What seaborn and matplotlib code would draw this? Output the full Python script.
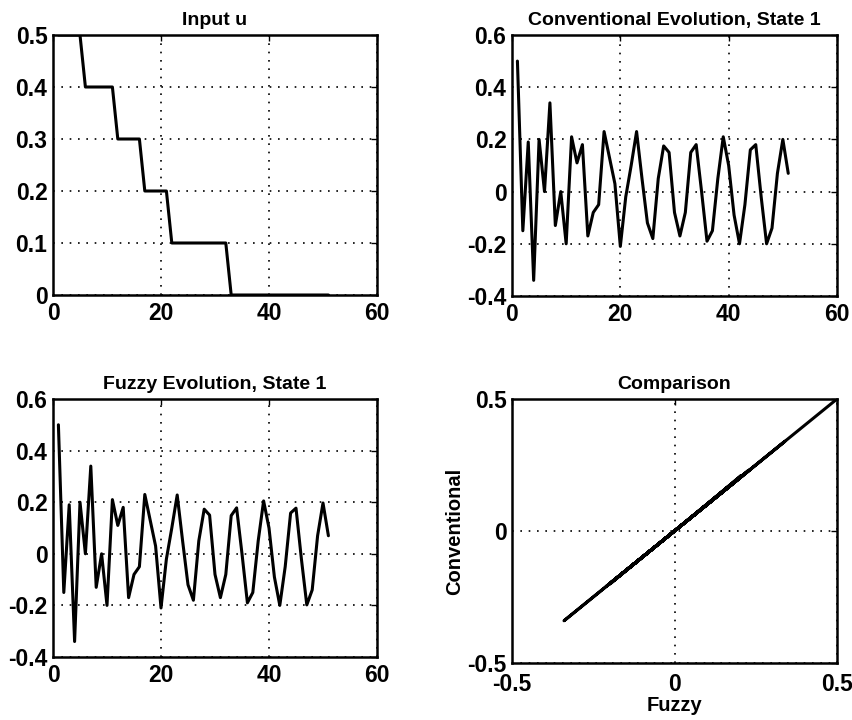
import matplotlib
matplotlib.use("Agg")
import matplotlib.pyplot as plt
import seaborn as sns
import pandas as pd

# ---- data ----
input_t = [1, 5, 6, 11, 12, 16, 17, 21, 22, 32, 33, 51]
input_u = [0.5, 0.5, 0.4, 0.4, 0.3, 0.3, 0.2, 0.2, 0.1, 0.1, 0.0, 0.0]

time_steps = list(range(1, 52))
conventional = [0.50, -0.15, 0.19, -0.34, 0.20, 0.00, 0.34, -0.13, 0.00, -0.20,
                0.21, 0.11, 0.18, -0.17, -0.08, -0.05, 0.23, 0.13, 0.03, -0.21,
                -0.02, 0.10, 0.23, 0.05, -0.12, -0.18, 0.05, 0.175, 0.15, -0.08,
                -0.17, -0.08, 0.15, 0.18, 0.00, -0.19, -0.15, 0.05, 0.21, 0.10,
                -0.09, -0.20, -0.05, 0.16, 0.18, -0.02, -0.20, -0.14, 0.07, 0.20,
                0.07]
fuzzy = [0.50, -0.15, 0.19, -0.34, 0.20, 0.00, 0.34, -0.13, 0.00, -0.20,
         0.21, 0.11, 0.18, -0.17, -0.08, -0.05, 0.23, 0.13, 0.03, -0.21,
         -0.02, 0.10, 0.228, 0.05, -0.12, -0.18, 0.05, 0.173, 0.15, -0.08,
         -0.17, -0.08, 0.148, 0.178, 0.00, -0.19, -0.15, 0.05, 0.205, 0.10,
         -0.09, -0.20, -0.05, 0.158, 0.177, -0.02, -0.198, -0.14, 0.07, 0.197,
         0.07]

titles = ["Input u", "Conventional Evolution, State 1",
          "Fuzzy Evolution, State 1", "Comparison"]

sns.set_style("white")
plt.rcParams["font.family"] = ["Liberation Sans", "DejaVu Sans"]
plt.rcParams["font.weight"] = "bold"
plt.rcParams["text.color"] = "black"
plt.rcParams["axes.labelcolor"] = "black"
plt.rcParams["axes.titlecolor"] = "black"
plt.rcParams["xtick.color"] = "black"
plt.rcParams["ytick.color"] = "black"

W, H = 852, 720
fig = plt.figure(figsize=(W / 100, H / 100), dpi=100)

def make_ax(l, r, t, b):
    return fig.add_axes([l / W, 1 - b / H, (r - l) / W, (b - t) / H])

ax1 = make_ax(53, 377, 35, 295)
ax2 = make_ax(512, 837, 35, 296)
ax3 = make_ax(53, 377, 399, 657)
ax4 = make_ax(512, 837, 399, 663)

lw = 2.2
df_in = pd.DataFrame({"t": input_t, "u": input_u})
sns.lineplot(data=df_in, x="t", y="u", ax=ax1, color="black", lw=lw, sort=False)
df_c = pd.DataFrame({"t": time_steps, "v": conventional})
sns.lineplot(data=df_c, x="t", y="v", ax=ax2, color="black", lw=lw, sort=False)
df_f = pd.DataFrame({"t": time_steps, "v": fuzzy})
sns.lineplot(data=df_f, x="t", y="v", ax=ax3, color="black", lw=lw, sort=False)
df_cmp = pd.DataFrame({"f": fuzzy, "c": conventional})
sns.lineplot(data=df_cmp, x="f", y="c", ax=ax4, color="black", lw=lw, sort=False,
             estimator=None)

ax1.set_xlim(0, 60); ax1.set_ylim(0, 0.5)
ax1.set_xticks([0, 20, 40, 60]); ax1.set_yticks([0, 0.1, 0.2, 0.3, 0.4, 0.5])
ax1.set_yticklabels(["0", "0.1", "0.2", "0.3", "0.4", "0.5"])
for ax in (ax2, ax3):
    ax.set_xlim(0, 60); ax.set_ylim(-0.4, 0.6)
    ax.set_xticks([0, 20, 40, 60])
    ax.set_yticks([-0.4, -0.2, 0, 0.2, 0.4, 0.6])
    ax.set_yticklabels(["-0.4", "-0.2", "0", "0.2", "0.4", "0.6"])
ax4.set_xlim(-0.5, 0.5); ax4.set_ylim(-0.5, 0.5)
ax4.set_xticks([-0.5, 0, 0.5]); ax4.set_yticks([-0.5, 0, 0.5])
ax4.set_xticklabels(["-0.5", "0", "0.5"]); ax4.set_yticklabels(["-0.5", "0", "0.5"])

for ax, title in zip((ax1, ax2, ax3, ax4), titles):
    ax.set_title(title, fontsize=14, fontweight="bold", pad=7, color="black")
    ax.set_xlabel(""); ax.set_ylabel("")
    ax.grid(True, color="black", linestyle=(0, (1, 4)), linewidth=1.2)
    for s in ax.spines.values():
        s.set_visible(True)
        s.set_color("black")
        s.set_linewidth(1.8)
    ax.tick_params(axis="both", labelsize=16.5, direction="in", length=4,
                   width=1, top=True, right=True, colors="black")
    ax.tick_params(axis="x", pad=5)
    ax.tick_params(axis="y", pad=4)
    for lab in ax.get_xticklabels() + ax.get_yticklabels():
        lab.set_fontweight("bold")

ax4.tick_params(axis="x", pad=7)
ax4.set_xlabel("Fuzzy", fontsize=14.5, fontweight="bold", labelpad=0, color="black")
ax4.set_ylabel("Conventional", fontsize=14.5, fontweight="bold", labelpad=2,
               color="black")

fig.savefig("out.png", dpi=100, facecolor="white")
